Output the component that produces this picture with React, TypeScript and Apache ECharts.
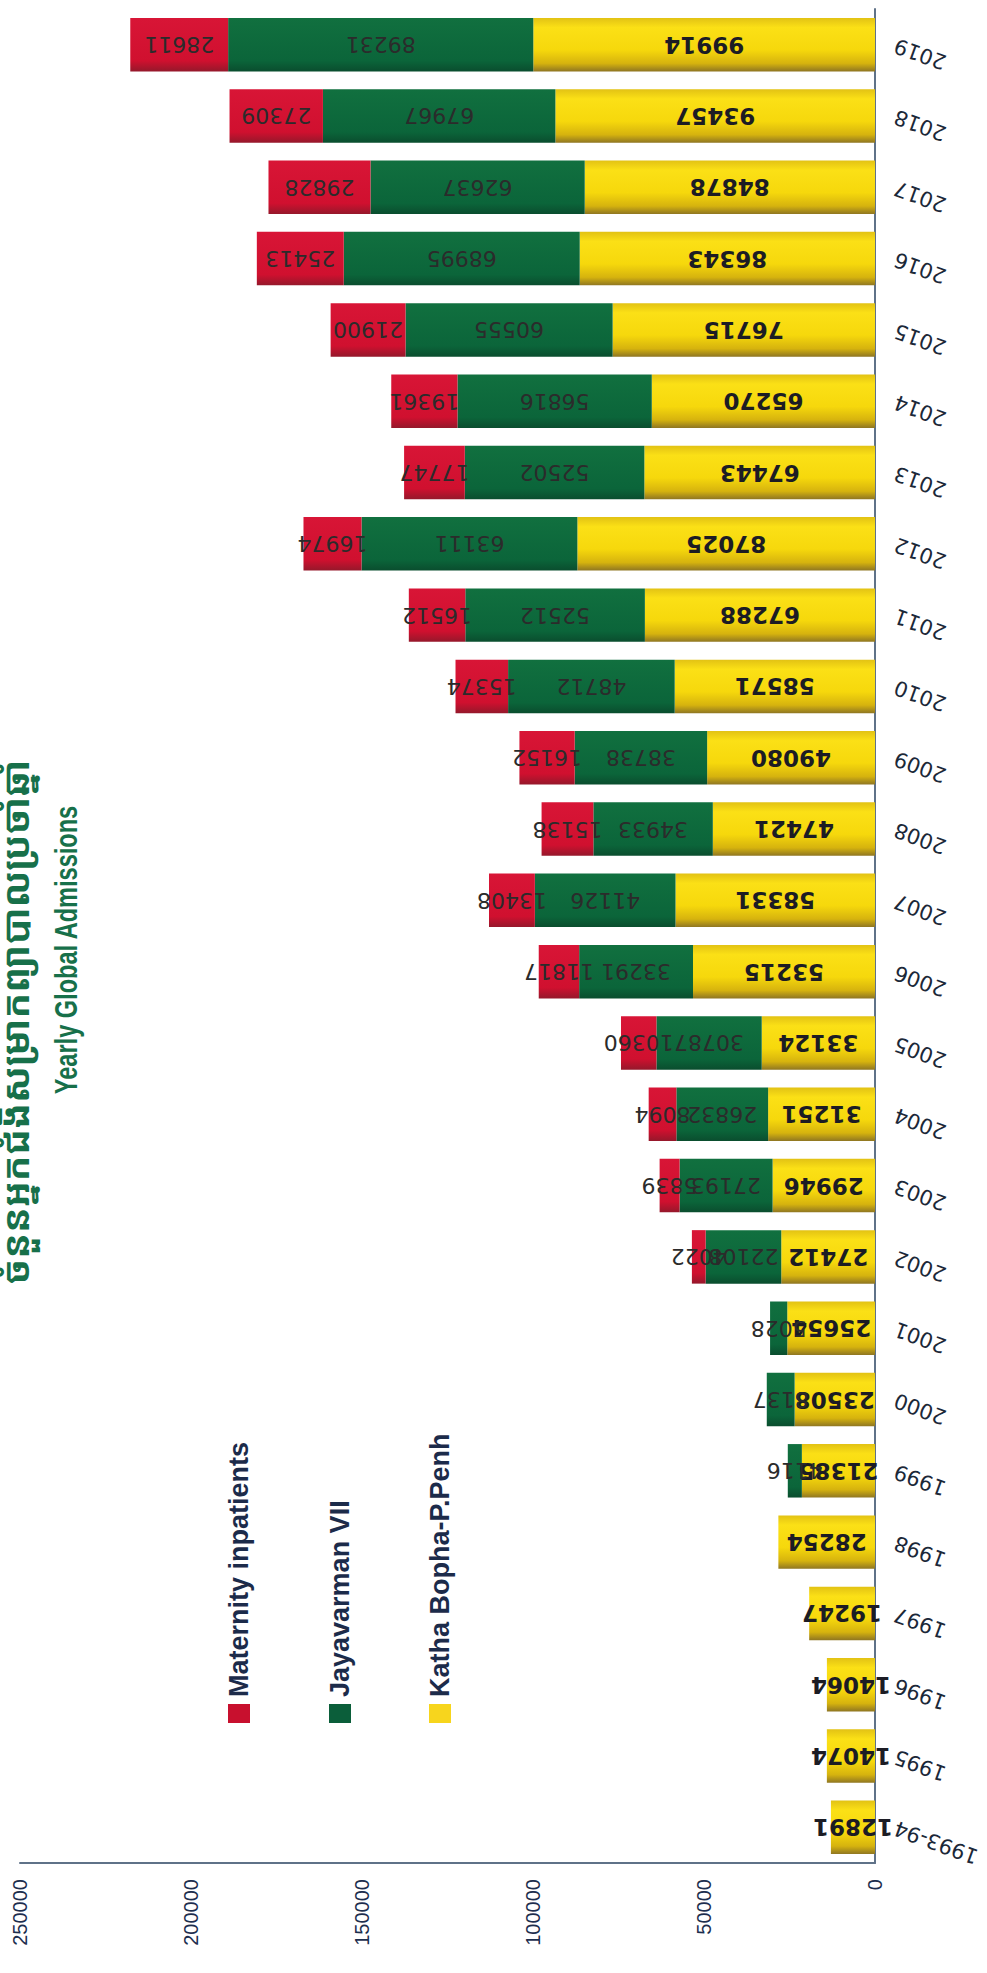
import React, { useEffect, useRef } from "react";
import * as echarts from "echarts";

const categories = [
  "1993-94", "1995", "1996", "1997", "1998", "1999", "2000", "2001", "2002", "2003",
  "2004", "2005", "2006", "2007", "2008", "2009", "2010", "2011", "2012", "2013",
  "2014", "2015", "2016", "2017", "2018", "2019",
];

const kathaBopha = [
  12891, 14074, 14064, 19247, 28254, 21385, 23508, 25654, 27412, 29946,
  31251, 33124, 53215, 58331, 47421, 49080, 58571, 67288, 87025, 67443,
  65270, 76715, 86343, 84878, 93457, 99914,
];

const jayavarman = [
  null, null, null, null, null, 4116, 8137, 5028, 22108, 27193,
  26832, 30787, 33291, 41126, 34933, 38738, 48712, 52512, 63111, 52502,
  56816, 60555, 68995, 62637, 67967, 89231,
];

const maternity = [
  null, null, null, null, null, null, null, null, 4022, 5839,
  8094, 10360, 11817, 13408, 15138, 16152, 15374, 16512, 16974, 17747,
  19361, 21900, 25413, 29828, 27309, 28611,
];

const valueTicks = [0, 50000, 100000, 150000, 200000, 250000];

const seriesNames = ["Katha Bopha-P.Penh", "Jayavarman VII", "Maternity inpatients"];
const legendColors = ["#f7d51d", "#0b5e3a", "#c8102e"];

const titleEn = "Yearly Global Admissions";
const titleKh = "ចំនួនអ្នកជំងឺសម្រាកព្យាបាលប្រចាំឆ្នាំ";

export default function App() {
  const ref = useRef<HTMLDivElement | null>(null);

  useEffect(() => {
    if (!ref.current) return;
    const chart = echarts.init(ref.current, undefined, { renderer: "svg" });

    const yellowGrad = new echarts.graphic.LinearGradient(0, 0, 0, 1, [
      { offset: 0, color: "#e2c214" },
      { offset: 0.18, color: "#fbe016" },
      { offset: 0.6, color: "#f6d80c" },
      { offset: 0.85, color: "#d6b30e" },
      { offset: 1, color: "#8f7622" },
    ]);
    const greenGrad = new echarts.graphic.LinearGradient(0, 0, 0, 1, [
      { offset: 0, color: "#11703f" },
      { offset: 0.8, color: "#0b653a" },
      { offset: 1, color: "#0a4d2e" },
    ]);
    const redGrad = new echarts.graphic.LinearGradient(0, 0, 0, 1, [
      { offset: 0, color: "#d81536" },
      { offset: 0.8, color: "#d0102f" },
      { offset: 1, color: "#95182b" },
    ]);

    const fmt = (p: any) => (p.value == null ? "" : String(p.value));

    const baseLabel = {
      show: true,
      position: "inside",
      rotate: 180,
      formatter: fmt,
      fontFamily: "DejaVu Sans",
      fontSize: 22,
    };

    const legendX = [239, 340, 440];
    const legendOrder = [2, 1, 0];
    const graphics: any[] = [];
    legendOrder.forEach((si, i) => {
      graphics.push({
        type: "rect",
        shape: { x: legendX[i] - 11, y: 1704, width: 22, height: 19 },
        style: { fill: legendColors[si] },
        silent: true,
      });
      graphics.push({
        type: "text",
        x: legendX[i],
        y: 1697,
        rotation: Math.PI / 2,
        silent: true,
        style: {
          text: seriesNames[si],
          fill: "#1c2b4a",
          fontSize: 27,
          fontFamily: "Liberation Sans",
          fontWeight: "bold",
          align: "left",
          textAlign: "left",
          verticalAlign: "middle",
          textVerticalAlign: "middle",
        },
      });
    });
    graphics.push({
      type: "text",
      x: 66,
      y: 950,
      rotation: Math.PI / 2,
      scaleX: 0.76,
      silent: true,
      style: {
        text: titleEn,
        fill: "#17704a",
        fontSize: 31,
        fontFamily: "Liberation Sans",
        fontWeight: "bold",
        align: "center",
        textAlign: "center",
        verticalAlign: "middle",
        textVerticalAlign: "middle",
      },
    });
    graphics.push({
      type: "text",
      x: 14,
      y: 1022,
      rotation: Math.PI / 2,
      silent: true,
      style: {
        text: titleKh,
        fill: "#17704a",
        fontSize: 38,
        fontFamily: "Noto Sans Khmer, Noto Sans, DejaVu Sans",
        fontWeight: "bold",
        align: "center",
        textAlign: "center",
        verticalAlign: "middle",
        textVerticalAlign: "middle",
      },
    });

    const option: any = {
      animation: false,
      backgroundColor: "#ffffff",
      grid: { left: 20, right: 112, top: 9, bottom: 110, containLabel: false, outerBoundsMode: "none" },
      xAxis: {
        type: "value",
        inverse: true,
        min: valueTicks[0],
        max: valueTicks[valueTicks.length - 1],
        interval: valueTicks[1] - valueTicks[0],
        position: "bottom",
        axisLine: { show: true, onZero: false, lineStyle: { color: "#5f7288", width: 2 } },
        axisTick: { show: false },
        splitLine: { show: false },
        axisLabel: {
          rotate: 90,
          margin: 16,
          fontSize: 20,
          color: "#1d2e4e",
          fontFamily: "Liberation Sans",
          formatter: (v: number) => String(v),
        },
      },
      yAxis: {
        type: "category",
        data: categories,
        position: "right",
        axisLine: { show: true, onZero: false, lineStyle: { color: "#5f7288", width: 2 } },
        axisTick: { show: false },
        axisLabel: {
          interval: 0,
          rotate: 160,
          margin: 20,
          fontSize: 21,
          color: "#1b2838",
          fontFamily: "DejaVu Sans",
        },
      },
      graphic: graphics,
      series: [
        {
          name: seriesNames[0],
          type: "bar",
          stack: "total",
          barCategoryGap: "25%",
          data: kathaBopha,
          itemStyle: { color: yellowGrad },
          label: { ...baseLabel, fontSize: 23, fontWeight: "bold", color: "#1c1c24" },
        },
        {
          name: seriesNames[1],
          type: "bar",
          stack: "total",
          barCategoryGap: "25%",
          data: jayavarman,
          itemStyle: { color: greenGrad },
          label: { ...baseLabel, fontWeight: "normal", color: "#2b2b2b" },
        },
        {
          name: seriesNames[2],
          type: "bar",
          stack: "total",
          barCategoryGap: "25%",
          data: maternity,
          itemStyle: { color: redGrad },
          label: { ...baseLabel, fontWeight: "normal", color: "#2b2b2b" },
        },
      ],
    };

    chart.setOption(option);
    return () => {
      chart.dispose();
    };
  }, []);

  return (
    <div
      ref={ref}
      style={{ position: "absolute", left: 0, top: 0, width: 987, height: 1973, background: "#fff" }}
    />
  );
}
